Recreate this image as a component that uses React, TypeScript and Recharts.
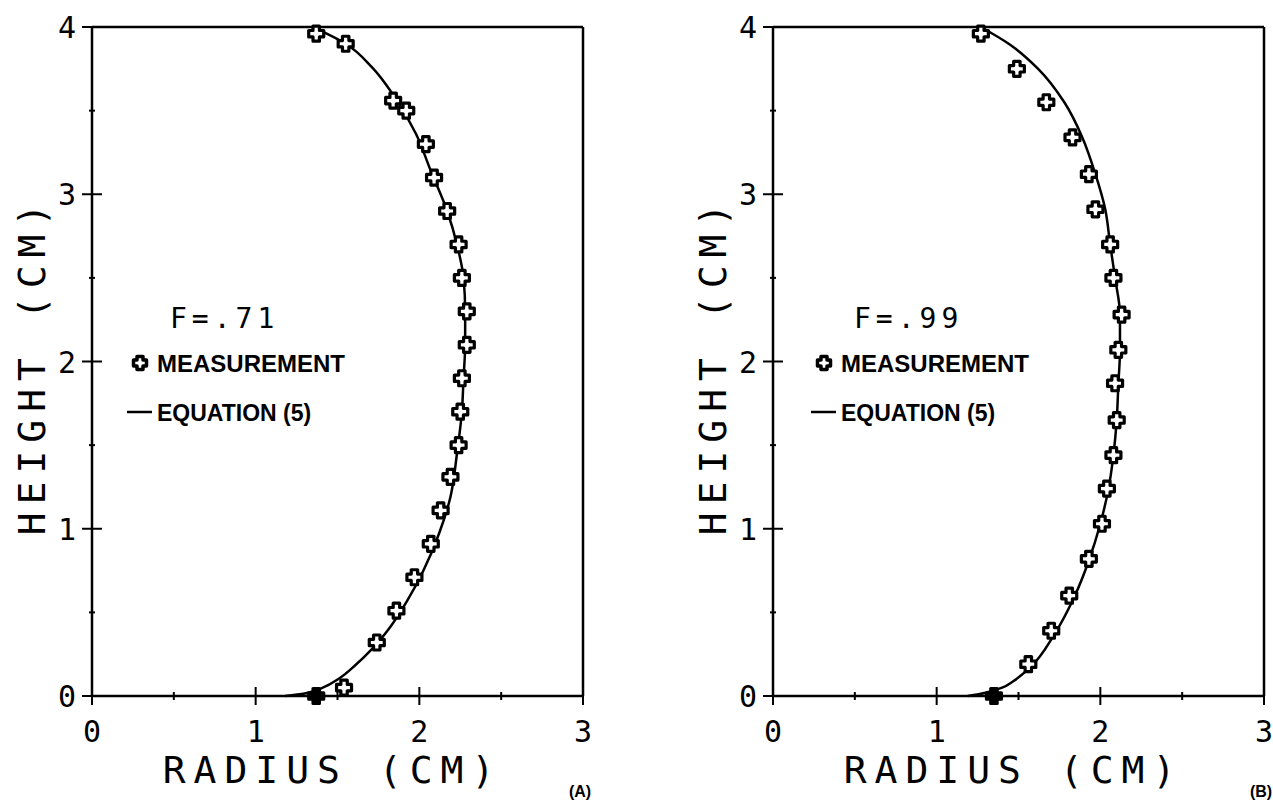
import * as React from 'react';
import { ComposedChart, Line, Scatter, XAxis, YAxis, ReferenceLine, Legend } from 'recharts';

const RADIUS_TICKS = [0, 0.5, 1, 1.5, 2, 2.5, 3];
const HEIGHT_TICKS = [0, 0.5, 1, 1.5, 2, 2.5, 3, 3.5, 4];

// panel (A), F = .71
const measuredA = [
  { r: 1.37, h: 0 }, { r: 1.54, h: 0.05 }, { r: 1.74, h: 0.32 }, { r: 1.86, h: 0.51 },
  { r: 1.97, h: 0.71 }, { r: 2.07, h: 0.91 }, { r: 2.13, h: 1.11 }, { r: 2.19, h: 1.31 },
  { r: 2.24, h: 1.5 }, { r: 2.25, h: 1.7 }, { r: 2.26, h: 1.9 }, { r: 2.29, h: 2.1 },
  { r: 2.29, h: 2.3 }, { r: 2.26, h: 2.5 }, { r: 2.24, h: 2.7 }, { r: 2.17, h: 2.9 },
  { r: 2.09, h: 3.1 }, { r: 2.04, h: 3.3 }, { r: 1.92, h: 3.5 }, { r: 1.84, h: 3.56 },
  { r: 1.55, h: 3.9 }, { r: 1.37, h: 3.96 },
];
const equationA = [
  { r: 1.18, h: 0 }, { r: 1.3, h: 0.015 }, { r: 1.41, h: 0.05 }, { r: 1.51, h: 0.105 },
  { r: 1.61, h: 0.185 }, { r: 1.71, h: 0.28 }, { r: 1.82, h: 0.41 }, { r: 1.92, h: 0.56 },
  { r: 2.02, h: 0.74 }, { r: 2.12, h: 0.97 }, { r: 2.19, h: 1.19 }, { r: 2.23, h: 1.45 },
  { r: 2.26, h: 1.7 }, { r: 2.27, h: 1.9 }, { r: 2.28, h: 2.1 }, { r: 2.28, h: 2.3 },
  { r: 2.27, h: 2.5 }, { r: 2.23, h: 2.7 }, { r: 2.17, h: 2.9 }, { r: 2.07, h: 3.14 },
  { r: 1.98, h: 3.36 }, { r: 1.85, h: 3.58 }, { r: 1.71, h: 3.76 }, { r: 1.55, h: 3.9 },
  { r: 1.37, h: 3.99 },
];

// panel (B), F = .99
const measuredB = [
  { r: 1.35, h: 0 }, { r: 1.56, h: 0.19 }, { r: 1.7, h: 0.39 }, { r: 1.81, h: 0.6 },
  { r: 1.93, h: 0.82 }, { r: 2.01, h: 1.03 }, { r: 2.04, h: 1.24 }, { r: 2.08, h: 1.44 },
  { r: 2.1, h: 1.65 }, { r: 2.09, h: 1.87 }, { r: 2.11, h: 2.07 }, { r: 2.13, h: 2.28 },
  { r: 2.08, h: 2.5 }, { r: 2.06, h: 2.7 }, { r: 1.97, h: 2.91 }, { r: 1.93, h: 3.12 },
  { r: 1.83, h: 3.34 }, { r: 1.67, h: 3.55 }, { r: 1.49, h: 3.75 }, { r: 1.27, h: 3.96 },
];
const equationB = [
  { r: 1.19, h: 0 }, { r: 1.3, h: 0.02 }, { r: 1.4, h: 0.05 }, { r: 1.47, h: 0.09 },
  { r: 1.57, h: 0.17 }, { r: 1.72, h: 0.37 }, { r: 1.84, h: 0.59 }, { r: 1.93, h: 0.81 },
  { r: 2.0, h: 1.03 }, { r: 2.05, h: 1.24 }, { r: 2.08, h: 1.44 }, { r: 2.1, h: 1.65 },
  { r: 2.11, h: 1.86 }, { r: 2.12, h: 2.07 }, { r: 2.12, h: 2.28 }, { r: 2.09, h: 2.5 },
  { r: 2.06, h: 2.7 }, { r: 2.03, h: 2.91 }, { r: 1.97, h: 3.12 }, { r: 1.89, h: 3.34 },
  { r: 1.78, h: 3.55 }, { r: 1.62, h: 3.75 }, { r: 1.44, h: 3.9 }, { r: 1.27, h: 4.0 },
];

const PLOT_FONT = '"DejaVu Sans Mono", "Liberation Mono", monospace';
const LEGEND_FONT = '"Liberation Sans", Arial, sans-serif';
const X_MARGIN = 24;
const Y_MARGIN = 16;

function crossPath(cx: number, cy: number, a: number, l: number) {
  return `M${cx - a},${cy - l}H${cx + a}V${cy - a}H${cx + l}V${cy + a}H${cx + a}V${cy + l}` +
    `H${cx - a}V${cy + a}H${cx - l}V${cy - a}H${cx - a}Z`;
}

// open cross; the ones sitting on the base line print as a solid blob
function CrossMarker({ cx, cy, payload }: any) {
  if (cx == null || cy == null) return null;
  const onBase = payload && payload.h === 0;
  return (
    <path
      d={crossPath(cx, cy, 3.2, 7.5)}
      fill={onBase ? '#000' : '#fff'}
      stroke="#000"
      strokeWidth={3.2}
      strokeLinejoin="round"
    />
  );
}

function RadiusTick({ x, y, payload }: any) {
  const v = payload.value;
  const axisY = y - X_MARGIN;
  const major = Number.isInteger(v);
  const len = major ? 9 : 4;
  return (
    <g>
      <line x1={x} x2={x} y1={axisY - len} y2={axisY + len} stroke="#000" strokeWidth={2} />
      {major && (
        <text x={x} y={y + 22} textAnchor="middle" fontFamily={PLOT_FONT} fontSize={30} fill="#000">
          {v}
        </text>
      )}
    </g>
  );
}

function HeightTick({ x, y, payload }: any) {
  const v = payload.value;
  const axisX = x + Y_MARGIN;
  const major = Number.isInteger(v);
  const len = major ? 10 : 3;
  return (
    <g>
      <line x1={axisX - len} x2={axisX + len} y1={y} y2={y} stroke="#000" strokeWidth={2} />
      {major && (
        <text x={x} y={y + 11} textAnchor="end" fontFamily={PLOT_FONT} fontSize={30} fill="#000">
          {v}
        </text>
      )}
    </g>
  );
}

function Panel({ measured, equation, fLabel, tag, left, shift }: any) {
  const legend = () => (
    <svg width={260} height={140} style={{ overflow: 'visible' }}>
      <text x={50} y={38} fontFamily={PLOT_FONT} fontSize={28} letterSpacing={5} fill="#000">
        {fLabel}
      </text>
      <path d={crossPath(20, 73, 3, 6.5)} fill="#fff" stroke="#000" strokeWidth={3.5} strokeLinejoin="round" />
      <text x={37} y={82} fontFamily={LEGEND_FONT} fontWeight="bold" fontSize={24} fill="#000">
        MEASUREMENT
      </text>
      <line x1={7} x2={32} y1={122} y2={122} stroke="#000" strokeWidth={2.5} />
      <text x={37} y={131} fontFamily={LEGEND_FONT} fontWeight="bold" fontSize={23} fill="#000">
        EQUATION (5)
      </text>
    </svg>
  );

  return (
    <div style={{ position: 'absolute', left, top: 0 }}>
      <ComposedChart width={636} height={800} margin={{ top: 27, right: 53, bottom: 0, left: 0 }}>
        <XAxis
          type="number"
          dataKey="r"
          domain={[0, 3]}
          ticks={RADIUS_TICKS}
          interval={0}
          tickSize={0}
          tickMargin={X_MARGIN}
          tickLine={false}
          axisLine={{ stroke: '#000', strokeWidth: 2.5 }}
          height={104}
          tick={(p: any) => <RadiusTick {...p} />}
          label={(p: any) => {
            const vb = p.viewBox || { x: 92, y: 696, width: 490 };
            return (
              <g>
                <text
                  x={vb.x + vb.width / 2 - 5}
                  y={783}
                  textAnchor="middle"
                  fontFamily={PLOT_FONT}
                  fontSize={38}
                  letterSpacing={8}
                  fill="#000"
                >
                  RADIUS (CM)
                </text>
                <text
                  x={vb.x + vb.width - 3}
                  y={797}
                  textAnchor="middle"
                  fontFamily={LEGEND_FONT}
                  fontWeight="bold"
                  fontSize={16}
                  fill="#000"
                >
                  {tag}
                </text>
              </g>
            );
          }}
        />
        <YAxis
          type="number"
          dataKey="h"
          domain={[0, 4]}
          ticks={HEIGHT_TICKS}
          interval={0}
          tickSize={0}
          tickMargin={Y_MARGIN}
          tickLine={false}
          axisLine={{ stroke: '#000', strokeWidth: 2.5 }}
          width={92}
          tick={(p: any) => <HeightTick {...p} />}
          label={(p: any) => {
            const vb = p.viewBox || { y: 27, height: 669 };
            const cy = vb.y + vb.height / 2 + 4;
            return (
              <text
                x={32}
                y={cy}
                transform={`rotate(-90 32 ${cy})`}
                textAnchor="middle"
                dominantBaseline="central"
                fontFamily={PLOT_FONT}
                fontSize={38}
                letterSpacing={8}
                fill="#000"
              >
                HEIGHT (CM)
              </text>
            );
          }}
        />
        <ReferenceLine y={4} stroke="#000" strokeWidth={2.5} />
        <ReferenceLine x={3} stroke="#000" strokeWidth={2.5} />
        <Legend
          layout="vertical"
          align="center"
          verticalAlign="middle"
          wrapperStyle={{ left: 120 + shift, top: 290, width: 260, height: 140 }}
          content={legend}
        />
        <Line
          data={equation}
          dataKey="h"
          type="monotoneY"
          stroke="#000"
          strokeWidth={2.5}
          dot={false}
          activeDot={false}
          isAnimationActive={false}
        />
        <Scatter data={measured} dataKey="h" shape={<CrossMarker />} isAnimationActive={false} />
      </ComposedChart>
    </div>
  );
}

export default function App() {
  return (
    <div style={{ position: 'absolute', left: 0, top: 0, width: 1273, height: 800, background: '#fff' }}>
      <Panel measured={measuredA} equation={equationA} fLabel="F=.71" tag="(A)" left={0} shift={0} />
      <Panel measured={measuredB} equation={equationB} fLabel="F=.99" tag="(B)" left={681} shift={3} />
    </div>
  );
}
